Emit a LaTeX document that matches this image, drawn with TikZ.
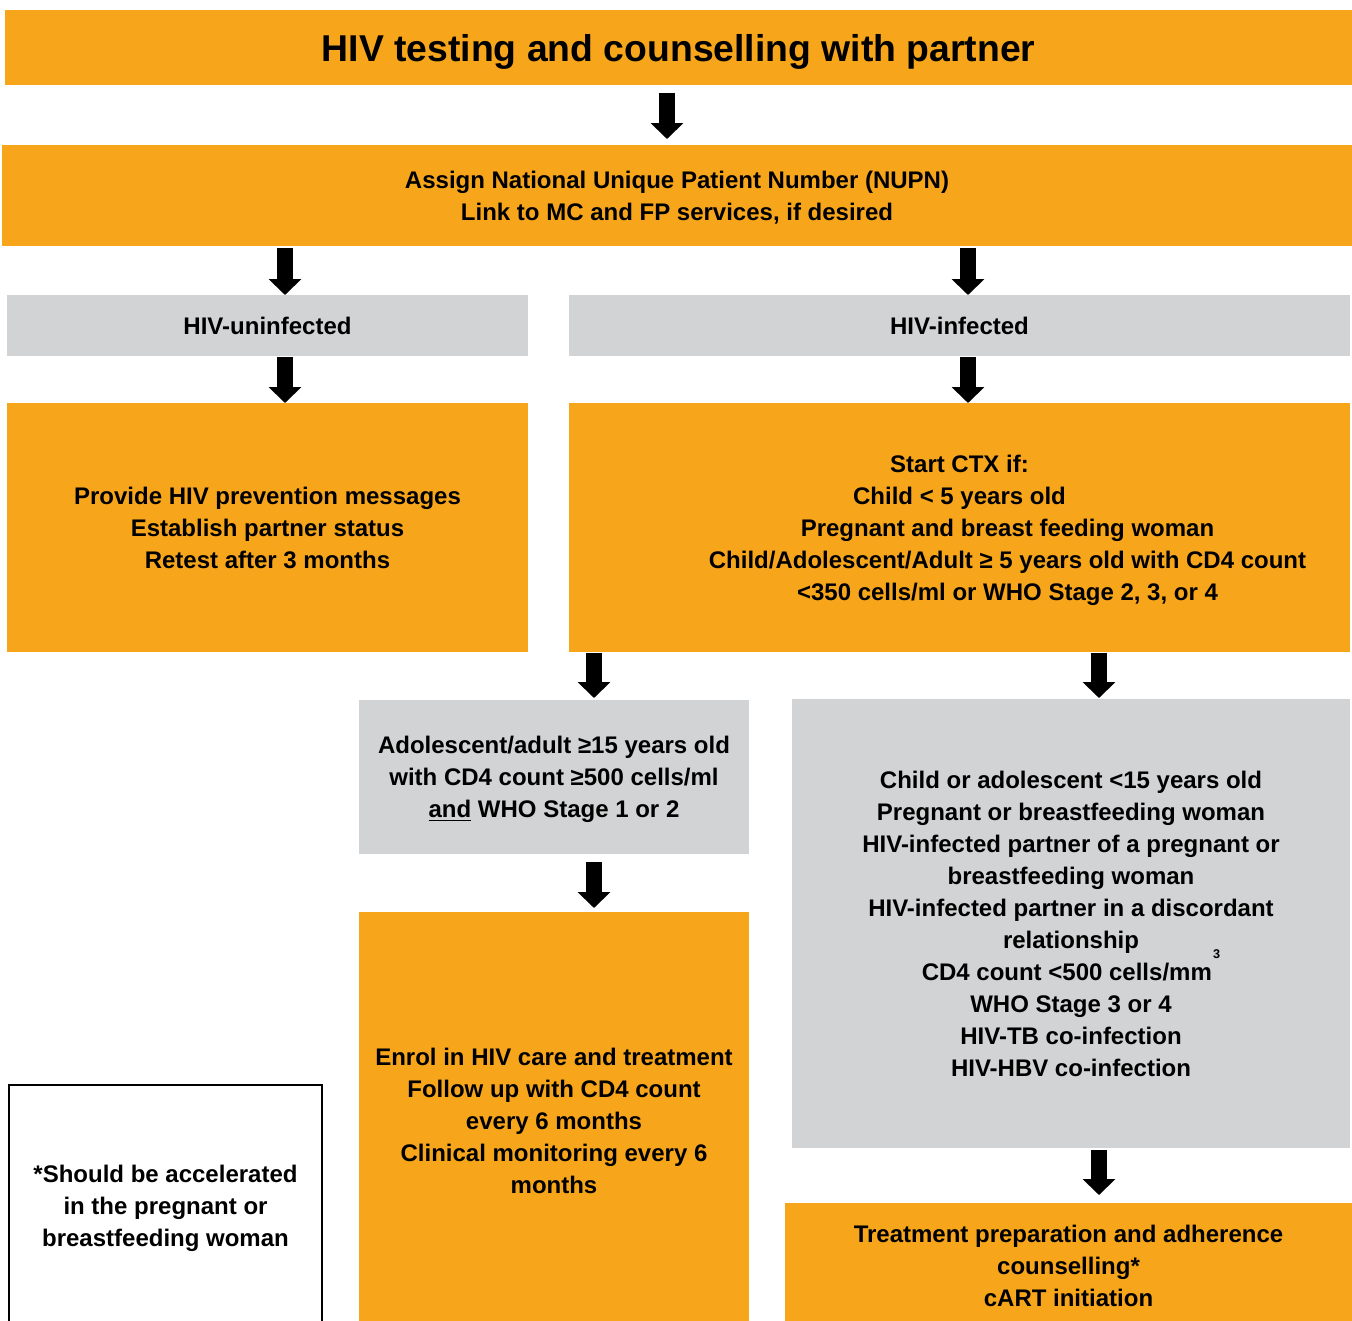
\documentclass[tikz,border=0pt]{standalone}
\usepackage{fontspec}
\setmainfont{Liberation Sans}
\usetikzlibrary{arrows.meta}
\definecolor{flowOrange}{RGB}{247,166,27}
\definecolor{flowGrey}{RGB}{209,211,212}

\begin{document}
\begin{tikzpicture}[x=0.75pt,y=-0.75pt,
  panel/.style n args={2}{rectangle, inner sep=0pt, outer sep=0pt,
    minimum width=#1*0.75pt, minimum height=#2*0.75pt, align=center,
    text depth=0pt, font=\bfseries\fontsize{18}{24}\selectfont},
  orangebox/.style={fill=flowOrange},
  greybox/.style={fill=flowGrey},
  notebox/.style={draw=black, line width=1.5pt, fill=white},
  blockarrow/.style={draw=black, line width=12pt,
    -{Triangle[width=24pt,length=12pt]}}
]
\path[use as bounding box] (0,0) rectangle (1352,1320);
\clip (0,0) rectangle (1352,1320);

% horizontal positions of the block arrows
\coordinate (ax1) at (667,0);
\coordinate (ax2) at (285,0);
\coordinate (ax3) at (968,0);
\coordinate (ax4) at (594,0);
\coordinate (ax5) at (1099,0);

% boxes
\node[panel={1347}{75}, orangebox, font=\bfseries\fontsize{28}{32}\selectfont]
  (title) at (678.5,47.5) {HIV testing and counselling with partner};

\node[panel={1350}{101}, orangebox] (nupn) at (677,195.5)
  {Assign National Unique Patient Number (NUPN)\\Link to MC and FP services, if desired};

\node[panel={521}{61}, greybox] (unin) at (267.5,325.5) {HIV-uninfected};
\node[panel={781}{61}, greybox] (inf) at (959.5,325.5) {HIV-infected};

\node[panel={521}{249}, orangebox] (prev) at (267.5,527.5)
  {Provide HIV prevention messages\\Establish partner status\\Retest after 3 months};

\node[panel={781}{249}, orangebox] (ctx) at (959.5,527.5)
  {Start CTX if:\\Child < 5 years old\\
   \hspace*{72pt}Pregnant and breast feeding woman\\
   \hspace*{72pt}Child/Adolescent/Adult ≥ 5 years old with CD4 count\\
   \hspace*{72pt}<350 cells/ml or WHO Stage 2, 3, or 4};

\node[panel={390}{154}, greybox] (adol) at (554,777)
  {Adolescent/adult ≥15 years old\\with CD4 count ≥500 cells/ml\\
   \underline{and} WHO Stage 1 or 2};

\node[panel={558}{449}, greybox] (child) at (1071,923.5)
  {Child or adolescent <15 years old\\Pregnant or breastfeeding woman\\
   HIV-infected partner of a pregnant or\\breastfeeding woman\\
   HIV-infected partner in a discordant\\relationship\\
   CD4 count <500 cells/mm\kern1pt\smash{\raisebox{16.5pt}{\fontsize{9.5}{9.5}\selectfont 3}}\\
   WHO Stage 3 or 4\\HIV-TB co-infection\\HIV-HBV co-infection};

\node[panel={390}{418}, orangebox] (enrol) at (554,1121)
  {Enrol in HIV care and treatment\\Follow up with CD4 count\\every 6 months\\
   Clinical monitoring every 6\\months};

\node[panel={567}{126}, orangebox] (treat) at (1068.5,1266)
  {Treatment preparation and adherence\\counselling*\\cART initiation};

\node[panel={313}{242}, notebox] (note) at (165.5,1206)
  {*Should be accelerated\\in the pregnant or\\breastfeeding woman};

% block arrows between the boxes
\draw[blockarrow] (title.south -| ax1) ++(0,8) -- ++(0,46);
\draw[blockarrow] (nupn.south -| ax2) ++(0,2) -- ++(0,47);
\draw[blockarrow] (nupn.south -| ax3) ++(0,2) -- ++(0,47);
\draw[blockarrow] (unin.south -| ax2) ++(0,1) -- ++(0,46);
\draw[blockarrow] (inf.south -| ax3) ++(0,1) -- ++(0,46);
\draw[blockarrow] (ctx.south -| ax4) ++(0,1) -- ++(0,45);
\draw[blockarrow] (ctx.south -| ax5) ++(0,1) -- ++(0,45);
\draw[blockarrow] (adol.south -| ax4) ++(0,8) -- ++(0,46);
\draw[blockarrow] (child.south -| ax5) ++(0,2) -- ++(0,45);
\end{tikzpicture}
\end{document}
